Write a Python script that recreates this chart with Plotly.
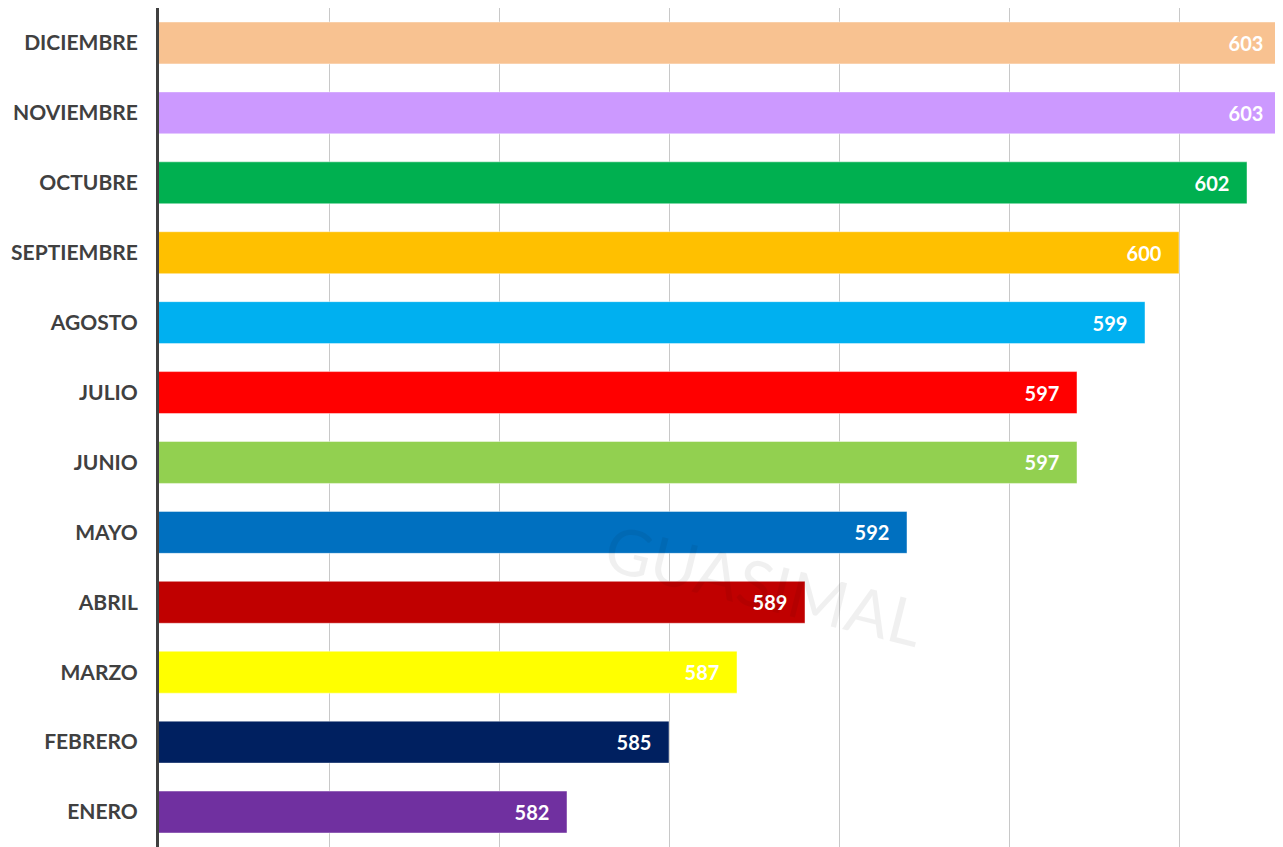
import plotly.graph_objects as go

months = ["ENERO", "FEBRERO", "MARZO", "ABRIL", "MAYO", "JUNIO", "JULIO",
          "AGOSTO", "SEPTIEMBRE", "OCTUBRE", "NOVIEMBRE", "DICIEMBRE"]
values = [582, 585, 587, 589, 592, 597, 597, 599, 600, 602, 603, 603]
colors = ["#7030A0", "#002060", "#FFFF00", "#C00000", "#0070C0", "#92D050",
          "#FF0000", "#00B0F0", "#FFC000", "#00B050", "#CC99FF", "#F8C291"]

PAD = "\u00a0\u00a0\u00a0"

fig = go.Figure(go.Bar(
    y=months, x=values, orientation="h",
    marker=dict(color=colors, line=dict(color="rgba(255,255,255,0.45)", width=1)),
    width=0.6,
    text=[f"{v}{PAD}" for v in values], textposition="inside", insidetextanchor="end",
    textfont=dict(family="Lato", size=20, color="white", weight="bold"),
    cliponaxis=False,
))

fig.add_annotation(text="GUASIMAL", xref="x", yref="y", x=587.8, y=3.25,
                   showarrow=False, textangle=14,
                   font=dict(family="Lato", size=64, color="rgba(0,0,0,0.06)"))

fig.update_layout(
    width=1275, height=839,
    margin=dict(l=151, r=0, t=0, b=0),
    plot_bgcolor="white", paper_bgcolor="white",
    showlegend=False,
    font=dict(family="Lato", color="#404040"),
)
fig.update_xaxes(range=[570, 570 + 1124 / 34], dtick=5, tick0=570, showticklabels=False,
                 showgrid=True, gridcolor="#C8C8C8", gridwidth=1, zeroline=False,
                 showline=False, automargin=False)
fig.update_yaxes(showline=True, linecolor="#404040", linewidth=3,
                 ticks="", ticklabelstandoff=14, automargin=False,
                 tickfont=dict(family="Lato", size=21, color="#404040", weight="bold"),
                 showgrid=False, range=[-0.5, 11.5])
fig.write_html("out.html")
